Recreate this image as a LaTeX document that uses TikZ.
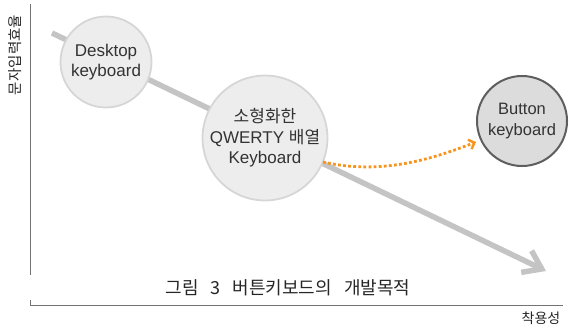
\documentclass[tikz,border=0pt]{standalone}
\usepackage{fontspec}
\setmainfont{Liberation Sans}
\newfontfamily\kr{Noto Sans CJK KR}
\usetikzlibrary{arrows.meta}
\definecolor{lgray}{HTML}{C4C4C4}
\definecolor{cfill}{HTML}{EDEDED}
\definecolor{cedge}{HTML}{D6D6D6}
\definecolor{bfill}{HTML}{DCDCDC}
\definecolor{bedge}{HTML}{5E5E5E}
\definecolor{orng}{HTML}{F7941D}
\newcommand{\capsp}{\hspace{12pt}}
\begin{document}
\begin{tikzpicture}[x=1pt,y=-1pt,
  lightcirc/.style={circle,fill=cfill,draw=cedge,line width=1.8pt,align=center,inner sep=0pt,text=black!80,font=\fontsize{17}{20.5}\selectfont},
  darkcirc/.style={circle,fill=bfill,draw=bedge,line width=2pt,align=center,inner sep=0pt,text=black!80,font=\fontsize{16.5}{20.5}\selectfont},
  axis/.style={draw=black!55,line width=0.9pt},
  trend/.style={draw=lgray,line width=5.5pt,-{Straight Barb[length=17pt,width=24pt,line width=5.5pt]}},
  dotarrow/.style={draw=orng,line width=2.8pt,dash pattern=on 2.8pt off 2.3pt,-{Straight Barb[length=5pt,width=10pt,line width=2.4pt]}}]
\useasboundingbox (0,0) rectangle (569,334);
\coordinate (yt) at (30.5,4);
\coordinate (g1) at (30.5,275);
\coordinate (g2) at (30.5,300);
\coordinate (org) at (30.5,305.5);
\coordinate (xe) at (563,305.5);
\draw[axis] (yt) -- (g1);
\draw[axis] (g2) -- (org) -- (xe);
\coordinate (ts) at (52,33);
\coordinate (te) at (546,271);
\draw[trend] (ts) -- (te);
\node[lightcirc,minimum size=91pt] (desk) at (106,62) {Desktop\\keyboard};
\node[lightcirc,minimum size=119pt] (qw) at (265,138) {{\kr 소형화한}\\QWERTY {\kr 배열}\\Keyboard};
\node[darkcirc,minimum size=90pt] (btn) at (522,121) {Button\\keyboard};
\coordinate (ds) at (323,162);
\coordinate (de) at (476,142);
\draw[dotarrow] (ds) .. controls (380,175) and (430,160) .. (de);
\node[inner sep=0pt,font=\kr\fontsize{18}{20}\selectfont,text=black!85] (cap) at (288,288) {그림\capsp 3\capsp 버튼키보드의\capsp 개발목적};
\node[rotate=90,font=\kr\fontsize{14.5}{16}\selectfont,text=black!85] (ylab) at (15.5,55) {문자입력효율};
\node[font=\kr\fontsize{14}{15}\selectfont,text=black!85] (xlab) at (541,318) {착용성};
\end{tikzpicture}
\end{document}
